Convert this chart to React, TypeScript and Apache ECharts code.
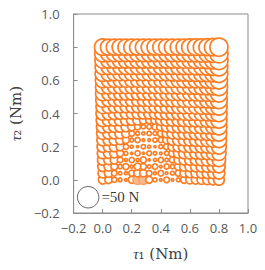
import React, { useEffect, useRef } from "react";
import * as echarts from "echarts";

const TAU1 = [0.0, 0.04, 0.08, 0.12, 0.16, 0.2, 0.24, 0.28, 0.32, 0.36, 0.4, 0.44, 0.48, 0.52, 0.56, 0.6, 0.64, 0.68, 0.72, 0.76, 0.8];
const TAU2 = [0.0, 0.04, 0.08, 0.12, 0.16, 0.2, 0.24, 0.28, 0.32, 0.36, 0.4, 0.44, 0.48, 0.52, 0.56, 0.6, 0.64, 0.68, 0.72, 0.76, 0.8];

// force magnitude (N), rows from tau2 = 0.00 (first) up to tau2 = 0.80 (last), columns tau1 = 0.00 .. 0.80
const FORCE_ROWS = [
  [20, 17, 12, 9, 6, 16, 22, 22, 16, 9, 6, 13, 6, 9, 16, 19, 20, 21, 22, 23, 25],
  [22, 19, 13, 8, 7, 14, 17, 17, 13, 7, 13, 6, 9, 14, 19, 21, 22, 23, 24, 25, 27],
  [23, 21, 16, 10, 14, 7, 16, 14, 8, 13, 6, 12, 10, 17, 21, 23, 24, 25, 26, 27, 29],
  [24, 22, 19, 13, 7, 12, 7, 14, 5, 7, 12, 8, 14, 20, 23, 24, 25, 27, 28, 29, 31],
  [25, 23, 21, 16, 9, 5, 12, 5, 11, 8, 6, 10, 17, 22, 25, 26, 27, 28, 29, 31, 33],
  [26, 24, 23, 19, 12, 7, 5, 10, 7, 5, 9, 14, 21, 24, 26, 27, 28, 29, 30, 32, 34],
  [27, 25, 24, 21, 16, 9, 12, 6, 6, 10, 12, 18, 24, 26, 27, 28, 29, 30, 31, 33, 35],
  [28, 26, 25, 24, 20, 13, 9, 7, 10, 9, 15, 21, 25, 27, 28, 29, 30, 31, 32, 34, 36],
  [29, 27, 26, 25, 23, 19, 14, 10, 11, 14, 19, 24, 27, 28, 29, 30, 31, 32, 33, 34, 37],
  [30, 28, 27, 26, 25, 24, 22, 18, 16, 19, 24, 27, 28, 29, 30, 31, 32, 32, 33, 35, 37],
  [31, 29, 28, 27, 26, 25, 25, 25, 25, 26, 28, 29, 30, 30, 31, 32, 32, 33, 34, 35, 38],
  [31, 30, 28, 28, 27, 27, 27, 27, 27, 28, 29, 30, 30, 31, 32, 32, 33, 34, 34, 36, 38],
  [32, 30, 29, 29, 29, 29, 28, 28, 29, 29, 30, 30, 31, 32, 32, 33, 33, 34, 35, 36, 39],
  [33, 31, 30, 30, 30, 30, 30, 30, 30, 30, 31, 31, 32, 32, 33, 33, 34, 35, 35, 37, 39],
  [33, 32, 31, 31, 31, 31, 31, 31, 31, 31, 31, 32, 32, 33, 33, 34, 34, 35, 36, 37, 40],
  [34, 33, 32, 32, 32, 32, 32, 32, 32, 32, 32, 33, 33, 33, 34, 34, 35, 35, 36, 38, 40],
  [35, 34, 33, 33, 33, 33, 33, 33, 33, 33, 33, 33, 34, 34, 34, 35, 35, 36, 37, 38, 41],
  [35, 34, 34, 34, 34, 34, 34, 34, 34, 34, 34, 34, 34, 35, 35, 35, 36, 36, 37, 39, 41],
  [36, 35, 35, 35, 35, 35, 35, 35, 35, 35, 35, 35, 35, 35, 36, 36, 37, 37, 38, 39, 42],
  [37, 36, 36, 36, 36, 36, 36, 36, 36, 36, 36, 36, 36, 36, 36, 37, 37, 38, 38, 40, 42],
  [38, 37, 37, 37, 37, 37, 37, 37, 37, 37, 37, 37, 37, 37, 37, 38, 38, 38, 39, 40, 42],
];

// [column index, row index] of the lightly filled circles
const LIGHT_CELLS = [[6, 0], [7, 0]];

const LEGEND_FORCE = 50;
const LEGEND_POS = [-0.1, -0.105];
const LEGEND_LABEL = "=50 N";

const AXIS_MIN = -0.2;
const AXIS_MAX = 1.0;
const AXIS_STEP = 0.2;

const PX_PER_N = 0.43;
const ORANGE = "#fb7d24";

export default function App() {
  const ref = useRef<HTMLDivElement>(null);
  useEffect(() => {
    if (!ref.current) return;
    const chart = echarts.init(ref.current, undefined, { renderer: "svg" });
    const data: any[] = [];
    FORCE_ROWS.forEach((row, j) => {
      row.forEach((f, i) => {
        const light = LIGHT_CELLS.some(([a, b]) => a === i && b === j);
        data.push({
          value: [TAU1[i], TAU2[j], f],
          itemStyle: light
            ? { color: "#f9b88a", borderColor: "#f8a164", borderWidth: 1.5 }
            : undefined,
        });
      });
    });
    const fmt = (v: number) => (v < 0 ? "\u2212" : "") + Math.abs(v).toFixed(1);
    const richName = {
      i: { fontStyle: "italic", fontSize: 15, color: "#404040", fontFamily: "Liberation Serif, DejaVu Serif, serif" },
      n: { fontSize: 15, color: "#404040", fontFamily: "DejaVu Serif, Liberation Serif, serif" },
    };
    const axisCommon = {
      type: "value",
      min: AXIS_MIN,
      max: AXIS_MAX,
      interval: AXIS_STEP,
      splitLine: { show: false },
      axisLine: { show: true, onZero: false, lineStyle: { color: "#8c8c8c", width: 1 } },
      axisTick: { show: true, inside: true, length: 4, lineStyle: { color: "#8c8c8c" } },
      axisLabel: {
        formatter: fmt,
        color: "#595959",
        fontSize: 13,
        fontFamily: "Open Sans, Noto Sans, sans-serif",
      },
      nameLocation: "middle",
      nameTextStyle: {
        color: "#404040",
        fontSize: 15,
        fontFamily: "Liberation Serif, DejaVu Serif, serif",
        rich: richName,
      },
    };
    chart.setOption({
      animation: false,
      grid: {
        left: 68,
        right: 17,
        top: 14,
        bottom: 57,
        show: true,
        borderColor: "#8c8c8c",
        borderWidth: 1,
        containLabel: false,
      },
      xAxis: {
        ...axisCommon,
        name: "{i|\u03c4}{n|\u2081 (Nm)}",
        nameGap: 33,
        axisLabel: { ...axisCommon.axisLabel, margin: 8 },
      },
      yAxis: {
        ...axisCommon,
        name: "{i|\u03c4}{n|\u2082 (Nm)}",
        nameGap: 42,
        axisLabel: { ...axisCommon.axisLabel, margin: 14 },
      },
      series: [
        {
          type: "scatter",
          data,
          symbol: "circle",
          symbolSize: (v: number[]) => v[2] * PX_PER_N,
          itemStyle: { color: "#ffffff", borderColor: ORANGE, borderWidth: 1.7, opacity: 1 },
          emphasis: { disabled: true },
          silent: true,
          z: 2,
        },
        {
          type: "scatter",
          data: [[LEGEND_POS[0], LEGEND_POS[1], LEGEND_FORCE]],
          symbol: "circle",
          symbolSize: (v: number[]) => v[2] * PX_PER_N,
          itemStyle: { color: "#ffffff", borderColor: "#404040", borderWidth: 1 },
          label: {
            show: true,
            position: "right",
            distance: 2,
            formatter: LEGEND_LABEL,
            color: "#000000",
            fontSize: 15,
            fontFamily: "Liberation Serif, DejaVu Serif, serif",
          },
          emphasis: { disabled: true },
          silent: true,
          z: 3,
        },
      ],
    });
    return () => chart.dispose();
  }, []);
  return <div ref={ref} style={{ width: 265, height: 270, position: "absolute", left: 0, top: 0 }} />;
}
